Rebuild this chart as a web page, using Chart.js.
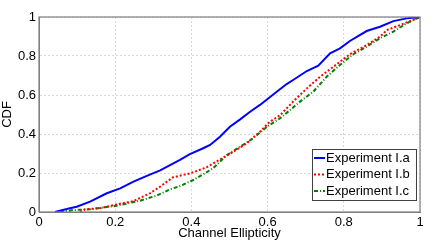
<!DOCTYPE html>
<html>
<head>
<meta charset="utf-8">
<script src="https://cdn.jsdelivr.net/npm/chart.js@4/dist/chart.umd.min.js"></script>
<style>
  html, body { margin: 0; padding: 0; background: #fff; }
  #wrap { width: 443px; height: 241px; }
</style>
</head>
<body>
<div id="wrap"><canvas id="cdf"></canvas></div>
<script>
var xA = [0.042, 0.081, 0.099, 0.134, 0.178, 0.213, 0.248, 0.283, 0.318, 0.370, 0.396, 0.431, 0.449, 0.475, 0.501, 0.528, 0.554, 0.580, 0.619, 0.650, 0.667, 0.703, 0.733, 0.764, 0.790, 0.816, 0.860, 0.895, 0.930, 0.965, 1.0];
var yA = [0, 0.019, 0.027, 0.053, 0.096, 0.121, 0.156, 0.185, 0.213, 0.267, 0.297, 0.327, 0.344, 0.386, 0.437, 0.475, 0.514, 0.549, 0.609, 0.656, 0.677, 0.723, 0.750, 0.814, 0.839, 0.877, 0.928, 0.950, 0.979, 0.993, 1.0];
var xB = [0.108, 0.121, 0.160, 0.204, 0.248, 0.291, 0.318, 0.352, 0.396, 0.440, 0.475, 0.510, 0.545, 0.580, 0.606, 0.633, 0.667, 0.703, 0.738, 0.781, 0.816, 0.860, 0.895, 0.913, 0.948, 0.982, 1.0];
var yB = [0, 0.014, 0.019, 0.039, 0.056, 0.096, 0.130, 0.178, 0.198, 0.229, 0.270, 0.309, 0.352, 0.412, 0.463, 0.497, 0.566, 0.634, 0.694, 0.757, 0.809, 0.856, 0.899, 0.933, 0.959, 0.985, 1.0];
var xC = [0.055, 0.089, 0.134, 0.204, 0.265, 0.309, 0.344, 0.370, 0.405, 0.457, 0.493, 0.528, 0.562, 0.598, 0.633, 0.659, 0.685, 0.720, 0.755, 0.790, 0.825, 0.860, 0.895, 0.930, 0.965, 1.0];
var yC = [0, 0.010, 0.014, 0.032, 0.058, 0.084, 0.116, 0.133, 0.164, 0.224, 0.292, 0.335, 0.378, 0.437, 0.481, 0.523, 0.566, 0.617, 0.694, 0.754, 0.809, 0.848, 0.891, 0.925, 0.968, 1.0];
var seriesNames = ['Experiment I.a', 'Experiment I.b', 'Experiment I.c'];
var tickValues = [0, 0.2, 0.4, 0.6, 0.8, 1];

function pts(xs, ys) {
  return xs.map(function (x, i) { return { x: x, y: ys[i] }; });
}
function tickLabel(v) {
  return (v === 0 || v === 1) ? String(v) : v.toFixed(1);
}

var font = 'Liberation Sans, Arial, sans-serif';
var styles = [
  { color: '#0000ff', dash: [] },
  { color: '#ff0000', dash: [2, 2] },
  { color: '#008000', dash: [4, 2, 1, 2] }
];

// frame round the plot + legend box inside it
var framePlugin = {
  id: 'frame',
  afterDraw: function (chart) {
    var a = chart.chartArea, ctx = chart.ctx;
    ctx.save();
    ctx.strokeStyle = '#7f7f7f';
    ctx.lineWidth = 1.2;
    ctx.strokeRect(a.left, a.top, a.right - a.left, a.bottom - a.top);

    var bx = a.left + 273, by = a.top + 132, bw = 104, bh = 51;
    ctx.fillStyle = '#fff';
    ctx.fillRect(bx, by, bw, bh);
    ctx.strokeStyle = '#404040';
    ctx.lineWidth = 1;
    ctx.strokeRect(bx + 0.5, by + 0.5, bw, bh);
    ctx.font = '13px ' + font;
    ctx.textBaseline = 'middle';
    for (var i = 0; i < 3; i++) {
      var ly = by + 9 + i * 16.5;
      ctx.strokeStyle = styles[i].color;
      ctx.lineWidth = 2;
      ctx.setLineDash(styles[i].dash);
      ctx.beginPath();
      ctx.moveTo(bx + 2, ly);
      ctx.lineTo(bx + 13, ly);
      ctx.stroke();
      ctx.setLineDash([]);
      ctx.fillStyle = '#000';
      ctx.fillText(seriesNames[i], bx + 14, ly);
    }
    ctx.restore();
  }
};

new Chart(document.getElementById('cdf'), {
  type: 'scatter',
  data: {
    datasets: [
      { label: seriesNames[0], data: pts(xA, yA) },
      { label: seriesNames[1], data: pts(xB, yB) },
      { label: seriesNames[2], data: pts(xC, yC) }
    ].map(function (d, i) {
      d.showLine = true;
      d.borderColor = styles[i].color;
      d.borderDash = styles[i].dash;
      d.borderWidth = 2;
      d.pointRadius = 0;
      d.tension = 0;
      return d;
    })
  },
  options: {
    responsive: true,
    maintainAspectRatio: false,
    animation: false,
    layout: { padding: { top: 17, right: 23, left: 0, bottom: 0 } },
    plugins: { legend: { display: false }, tooltip: { enabled: false } },
    scales: {
      x: {
        type: 'linear', min: 0, max: 1,
        afterBuildTicks: function (s) { s.ticks = tickValues.map(function (v) { return { value: v }; }); },
        afterFit: function (s) { s.height = 29; },
        grid: { color: '#d8d8d8', tickLength: 0 },
        border: { color: '#7f7f7f', dash: [2, 2] },
        ticks: { color: '#000', font: { family: font, size: 13 }, padding: 3, maxRotation: 0,
                 callback: function (v) { return tickLabel(v); } },
        title: { display: true, text: 'Channel Ellipticity', color: '#000',
                 font: { family: font, size: 13 }, padding: { top: -4, bottom: 0 } }
      },
      y: {
        type: 'linear', min: 0, max: 1,
        afterBuildTicks: function (s) { s.ticks = tickValues.map(function (v) { return { value: v }; }); },
        afterFit: function (s) { s.width = 39; },
        grid: { color: '#d8d8d8', tickLength: 0 },
        border: { color: '#7f7f7f', dash: [2, 2] },
        ticks: { color: '#000', font: { family: font, size: 13 }, padding: 3,
                 callback: function (v) { return tickLabel(v); } },
        title: { display: true, text: 'CDF', color: '#000',
                 font: { family: font, size: 13 }, padding: 0 }
      }
    }
  },
  plugins: [framePlugin]
});
</script>
</body>
</html>
